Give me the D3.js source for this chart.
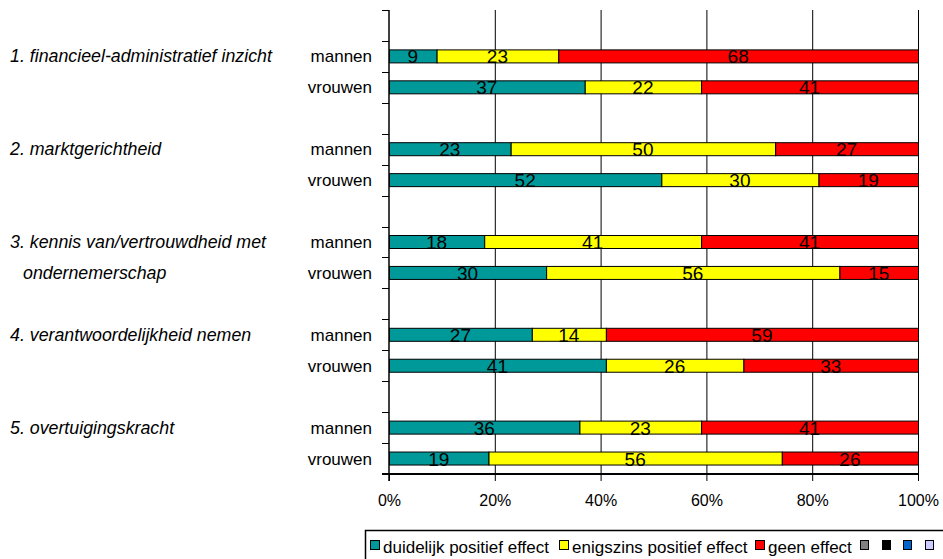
<!DOCTYPE html>
<html>
<head>
<meta charset="utf-8">
<script src="https://cdn.jsdelivr.net/npm/d3@7/dist/d3.min.js"></script>
<style>
  html, body { margin: 0; padding: 0; background: #fff; }
  svg { display: block; font-family: Arial, "Liberation Sans", sans-serif; }
</style>
</head>
<body>
<svg id="chart" width="943" height="559"></svg>
<script>
// ---- data ----
const groups = [
  ["1. financieel-administratief inzicht"],
  ["2. marktgerichtheid"],
  ["3. kennis van/vertrouwdheid met", "ondernemerschap"],
  ["4. verantwoordelijkheid nemen"],
  ["5. overtuigingskracht"]
];
const genders = ["mannen", "vrouwen"];
const seriesNames = ["duidelijk positief effect", "enigszins positief effect", "geen effect"];
const seriesColors = ["#009999", "#FFFF00", "#FF0000"];
const extraLegendColors = ["#808080", "#000000", "#0066CC", "#CCCCFF"];
// rows in order: g1 mannen, g1 vrouwen, g2 mannen, ...
const duidelijk = [9, 37, 23, 52, 18, 30, 27, 41, 36, 19];
const enigszins = [23, 22, 50, 30, 41, 56, 14, 26, 23, 56];
const geen      = [68, 41, 27, 19, 41, 15, 59, 33, 41, 26];
const xTicks = [0, 0.2, 0.4, 0.6, 0.8, 1];

(function () {
// ---- layout ----
const svg = d3.select("#chart");
const pL = 389, pR = 918, pT = 10, pB = 474;

// 15 slots: blank, mannen, vrouwen per group
const slots = [];
groups.forEach((g, gi) => {
  slots.push("blank" + gi);
  genders.forEach(s => slots.push(gi + "-" + s));
});
const y = d3.scaleBand().domain(slots).range([pT, pB]).paddingInner(0).paddingOuter(0);
const x = d3.scaleLinear().domain([0, 1]).range([pL, pR]);

const rows = [];
groups.forEach((g, gi) => {
  genders.forEach((s, si) => {
    const i = gi * 2 + si;
    const vals = [duidelijk[i], enigszins[i], geen[i]];
    const total = d3.sum(vals);
    let acc = 0;
    const segs = vals.map((v, k) => {
      const s0 = acc / total; acc += v; const s1 = acc / total;
      return { v, k, s0, s1 };
    });
    rows.push({ key: gi + "-" + s, gender: s, segs });
  });
});

// gridlines
svg.append("g").selectAll("line").data(xTicks.slice(1)).join("line")
  .attr("x1", d => x(d) + 0.5).attr("x2", d => x(d) + 0.5)
  .attr("y1", pT).attr("y2", pB)
  .attr("stroke", "#000").attr("stroke-width", 1);

// bars
const barH = 13;
const rowG = svg.append("g").selectAll("g").data(rows).join("g")
  .attr("transform", d => `translate(0,${y(d.key) + y.bandwidth() / 2})`);
rowG.selectAll("rect").data(d => d.segs).join("rect")
  .attr("x", d => x(d.s0) + 0.5)
  .attr("width", d => x(d.s1) - x(d.s0))
  .attr("y", -barH / 2)
  .attr("height", barH)
  .attr("fill", d => seriesColors[d.k])
  .attr("stroke", "#000").attr("stroke-width", 1);
rowG.selectAll("text").data(d => d.segs).join("text")
  .attr("x", d => (x(d.s0) + x(d.s1)) / 2)
  .attr("y", 7)
  .attr("text-anchor", "middle")
  .attr("font-size", 19)
  .attr("fill", "#000")
  .text(d => d.v);

// y axis (category) with ticks at slot boundaries
svg.append("line").attr("x1", pL).attr("x2", pL).attr("y1", pT).attr("y2", pB + 7)
  .attr("stroke", "#000").attr("stroke-width", 1.5);
const bounds = slots.map(s => y(s)).concat([pB]);
svg.append("g").selectAll("line").data(bounds).join("line")
  .attr("x1", pL - 7).attr("x2", pL).attr("y1", d => Math.round(d) + 0.5).attr("y2", d => Math.round(d) + 0.5)
  .attr("stroke", "#000").attr("stroke-width", 1);

// x axis
const xAxis = d3.axisBottom(x).tickValues(xTicks).tickFormat(d3.format(".0%")).tickSize(7).tickPadding(14);
const xg = svg.append("g").attr("transform", `translate(0,${pB})`).call(xAxis);
xg.select(".domain").remove();
xg.selectAll(".tick line").attr("stroke", "#000").attr("stroke-width", 1);
xg.selectAll(".tick text").attr("font-size", 16).attr("font-family", "Arial, 'Liberation Sans', sans-serif").attr("fill", "#000");
svg.append("line").attr("x1", pL - 7).attr("x2", pR + 1).attr("y1", pB).attr("y2", pB)
  .attr("stroke", "#000").attr("stroke-width", 2);

// gender labels
svg.append("g").selectAll("text").data(rows).join("text")
  .attr("x", 372)
  .attr("y", d => y(d.key) + y.bandwidth() / 2 + 6)
  .attr("text-anchor", "end")
  .attr("font-size", 17)
  .text(d => d.gender);

// group labels
groups.forEach((g, gi) => {
  g.forEach((line, li) => {
    svg.append("text")
      .attr("x", li === 0 ? 10 : 23)
      .attr("y", y(gi + "-" + genders[li]) + y.bandwidth() / 2 + 6)
      .attr("font-size", 17.8)
      .attr("font-style", "italic")
      .text(line);
  });
});

// legend
const lg = svg.append("g");
lg.append("rect").attr("x", 365.5).attr("y", 530.5).attr("width", 600).attr("height", 60)
  .attr("fill", "#fff").attr("stroke", "#000").attr("stroke-width", 1.5);
const legendX = [370, 559, 755];
seriesNames.forEach((name, i) => {
  const lx = legendX[i];
  lg.append("rect").attr("x", lx + 0.5).attr("y", 540.5).attr("width", 9).attr("height", 9)
    .attr("fill", seriesColors[i]).attr("stroke", "#000");
  lg.append("text").attr("x", lx + 13).attr("y", 553).attr("font-size", 17).text(name);
});
const extraX = [860, 882, 903, 925];
extraLegendColors.forEach((c, i) => {
  lg.append("rect").attr("x", extraX[i] + 0.5).attr("y", 540.5).attr("width", 8).attr("height", 9)
    .attr("fill", c).attr("stroke", "#000");
});
})();
</script>
</body>
</html>
